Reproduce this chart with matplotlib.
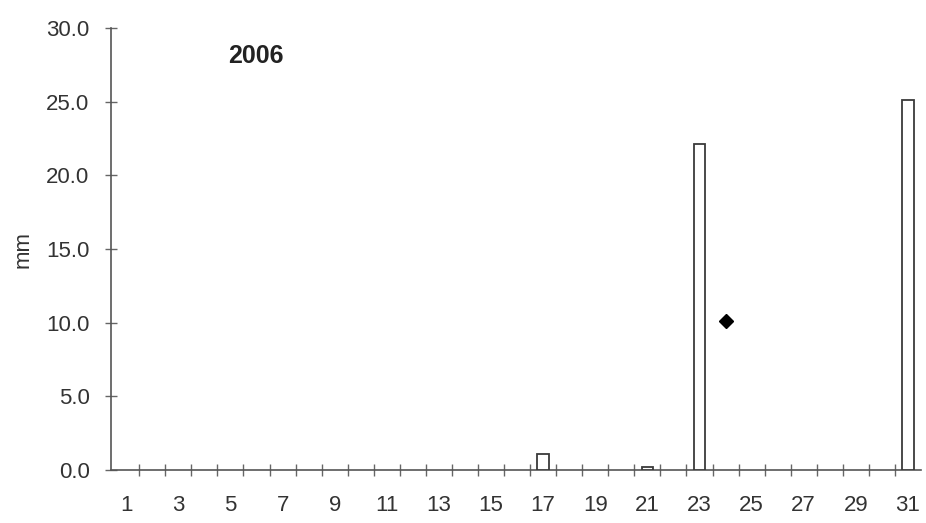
import numpy as np
import matplotlib.pyplot as plt

# daily rainfall, mm (days without rain left out)
rain_days = [17, 21, 23, 31]
rain_mm = [1.1, 0.2, 22.1, 25.1]

# single point series
point_days = [24]
point_mm = [10.1]

year_label = "2006"
day_labels = [str(d) for d in range(1, 32, 2)]

plt.rcParams["font.family"] = ["Liberation Sans", "DejaVu Sans"]

fig = plt.figure(figsize=(9.26, 5.23), dpi=100)
ax = fig.add_axes([0.12, 0.1013, 0.8746, 0.8452])

ax.bar(rain_days, rain_mm, width=0.45, color="white", edgecolor="#3a3a3a",
       linewidth=1.3, zorder=3)
ax.plot(point_days, point_mm, linestyle="none", marker="D", markersize=7,
        color="black", zorder=4)

ax.set_xlim(0.42, 31.5)
ax.set_ylim(0, 30)

ax.set_xticks(range(1, 32, 2))
ax.set_xticklabels(day_labels)
ax.set_xticks(np.arange(1.5, 31.5, 1.0), minor=True)
ax.tick_params(axis="x", which="major", length=0, pad=18, labelsize=16,
               labelcolor="#333333")
ax.tick_params(axis="x", which="minor", direction="inout", length=9,
               width=1.0, color="#666666")

ax.set_yticks(np.arange(0, 31, 5))
ax.set_yticklabels([f"{v:.1f}" for v in np.arange(0, 31, 5)])
ax.tick_params(axis="y", direction="inout", length=9, width=1.0,
               color="#666666", labelsize=16, labelcolor="#333333", pad=11)

for side in ["top", "right"]:
    ax.spines[side].set_visible(False)
for side in ["left", "bottom"]:
    ax.spines[side].set_color("#555555")
    ax.spines[side].set_linewidth(1.2)

ax.set_ylabel("mm", fontsize=16, color="#333333", labelpad=9)
ax.text(0.144, 0.937, year_label, transform=ax.transAxes, fontsize=18,
        fontweight="bold", color="#222222", va="center")

fig.savefig("out.png", dpi=100)
